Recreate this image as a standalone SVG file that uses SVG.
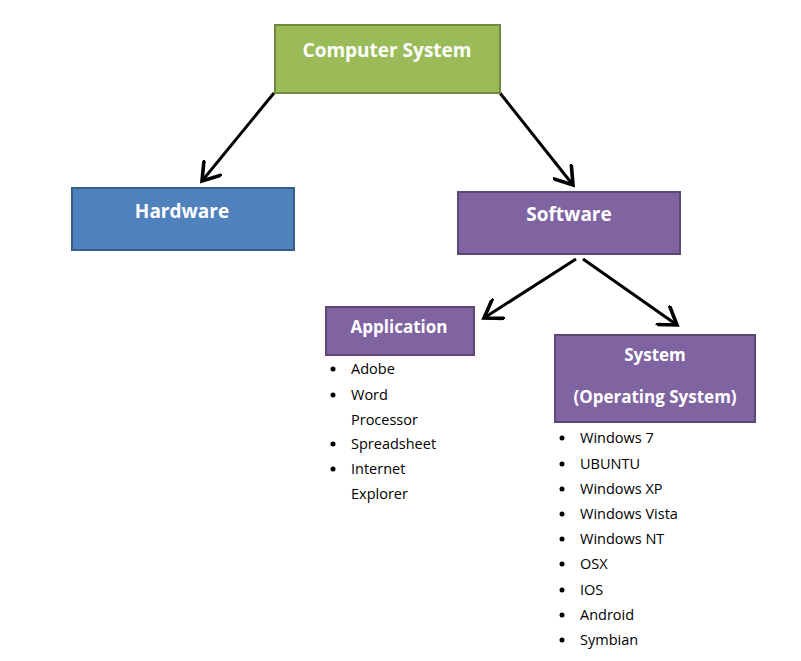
<svg xmlns="http://www.w3.org/2000/svg" width="801" height="661" viewBox="0 0 801 661">
<style>
.t{font-family:"Open Sans","Liberation Sans",sans-serif;font-weight:bold;fill:#fff;font-size:19px;text-anchor:middle}
.s{font-size:17px}
.l{font-family:"Open Sans","Liberation Sans",sans-serif;font-size:14.5px;fill:#000}
.c{stroke:#000;stroke-width:3;fill:none;marker-end:url(#a)}
</style>
<defs><marker id="a" markerWidth="8" markerHeight="8" refX="6" refY="4" orient="auto" markerUnits="strokeWidth"><path d="M0,0 L6,4 L0,8" fill="none" stroke="#000" stroke-width="1.2"/></marker></defs>
<rect width="801" height="661" fill="#fff"/>
<g id="connectors">
<line class="c" x1="274" y1="93" x2="202" y2="181"/>
<line class="c" x1="500" y1="93" x2="573" y2="185"/>
<line class="c" x1="576" y1="259" x2="484" y2="318"/>
<line class="c" x1="583" y1="259" x2="677" y2="325"/>
</g>
<g id="computer"><rect x="275" y="25" width="225" height="68" fill="#9BBB59" stroke="#71893F" stroke-width="2"/><text class="t" x="387" y="57">Computer System</text></g>
<g id="hardware"><rect x="72" y="188" width="222" height="62" fill="#4F81BD" stroke="#385D8A" stroke-width="2"/><text class="t" x="182" y="218">Hardware</text></g>
<g id="software"><rect x="458" y="192" width="222" height="62" fill="#8064A2" stroke="#5C4776" stroke-width="2"/><text class="t" x="569" y="221">Software</text></g>
<g id="application"><rect x="326" y="307" width="148" height="48" fill="#8064A2" stroke="#5C4776" stroke-width="2"/><text class="t s" x="399" y="333">Application</text>
<g class="l"><circle cx="333" cy="369" r="2.5"/><circle cx="333" cy="395" r="2.5"/><circle cx="333" cy="444" r="2.5"/><circle cx="333" cy="469" r="2.5"/>
<text class="l" x="351" y="374">Adobe</text><text class="l" x="351" y="400">Word</text><text class="l" x="351" y="425">Processor</text><text class="l" x="351" y="449">Spreadsheet</text><text class="l" x="351" y="474">Internet</text><text class="l" x="351" y="499">Explorer</text></g></g>
<g id="system"><rect x="555" y="335" width="200" height="87" fill="#8064A2" stroke="#5C4776" stroke-width="2"/><text class="t s" x="655" y="361">System</text><text class="t s" x="655" y="403">(Operating System)</text>
<g><circle cx="562" cy="438" r="2.5"/><circle cx="562" cy="464" r="2.5"/><circle cx="562" cy="489" r="2.5"/><circle cx="562" cy="514" r="2.5"/><circle cx="562" cy="539" r="2.5"/><circle cx="562" cy="564" r="2.5"/><circle cx="562" cy="590" r="2.5"/><circle cx="562" cy="615" r="2.5"/><circle cx="562" cy="640" r="2.5"/>
<text class="l" x="580" y="443">Windows 7</text><text class="l" x="580" y="469">UBUNTU</text><text class="l" x="580" y="494">Windows XP</text><text class="l" x="580" y="519">Windows Vista</text><text class="l" x="580" y="544">Windows NT</text><text class="l" x="580" y="569">OSX</text><text class="l" x="580" y="595">IOS</text><text class="l" x="580" y="620">Android</text><text class="l" x="580" y="645">Symbian</text></g></g>
</svg>
